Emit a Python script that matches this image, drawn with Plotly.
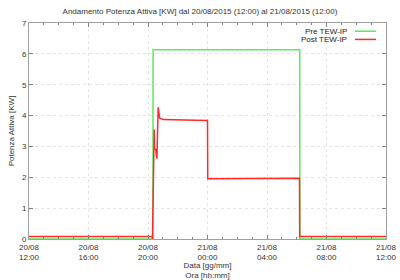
import plotly.graph_objects as go

# Data
pre_times = ["2015-08-20 12:00", "2015-08-20 20:20", "2015-08-20 20:20:30",
             "2015-08-21 06:12", "2015-08-21 06:12:30", "2015-08-21 12:00"]
pre_values = [0.0, 0.0, 6.13, 6.13, 0.0, 0.0]

post_times = ["2015-08-20 12:00", "2015-08-20 20:17", "2015-08-20 20:18",
              "2015-08-20 20:25", "2015-08-20 20:26", "2015-08-20 20:31",
              "2015-08-20 20:33", "2015-08-20 20:36", "2015-08-20 20:41",
              "2015-08-20 20:47", "2015-08-20 21:00", "2015-08-21 00:00",
              "2015-08-21 00:01", "2015-08-21 06:11", "2015-08-21 06:12",
              "2015-08-21 12:00"]
post_values = [0.08, 0.08, 0.0, 3.55, 2.95, 2.9, 2.6, 2.6, 4.27,
               3.92, 3.87, 3.84, 1.95, 1.97, 0.08, 0.08]

tick_vals = ["2015-08-20 12:00", "2015-08-20 16:00", "2015-08-20 20:00",
             "2015-08-21 00:00", "2015-08-21 04:00", "2015-08-21 08:00",
             "2015-08-21 12:00"]
tick_text = ["20/08<br>12:00", "20/08<br>16:00", "20/08<br>20:00",
             "21/08<br>00:00", "21/08<br>04:00", "21/08<br>08:00",
             "21/08<br>12:00"]

legend_names = ["Pre TEW-IP", "Post TEW-IP"]
colors = ["#5ee85e", "#ff2a2a"]

FONT = "Liberation Sans, Arial, sans-serif"

fig = go.Figure()
fig.add_trace(go.Scatter(x=pre_times, y=pre_values, mode="lines",
                         line=dict(color=colors[0], width=1.5, shape="linear"),
                         name=legend_names[0]))
fig.add_trace(go.Scatter(x=post_times, y=post_values, mode="lines",
                         line=dict(color=colors[1], width=1.5, shape="linear"),
                         name=legend_names[1]))

# legend drawn gnuplot-style (text left, sample right)
for i, (nm, c) in enumerate(zip(legend_names, colors)):
    yp = 0.962 - i * 0.038
    fig.add_annotation(xref="paper", yref="paper", x=0.896, y=yp, text=nm,
                       showarrow=False, xanchor="right", yanchor="middle",
                       font=dict(family=FONT, size=8, color="#222"))
    fig.add_shape(type="line", xref="paper", yref="paper",
                  x0=0.913, x1=0.972, y0=yp, y1=yp,
                  line=dict(color=c, width=1.5))

fig.update_layout(
    width=400, height=280,
    margin=dict(l=29, r=14, t=23, b=41),
    paper_bgcolor="white", plot_bgcolor="white",
    showlegend=False,
    font=dict(family=FONT, size=8, color="#333"),
    title=dict(text="Andamento Potenza Attiva [KW] dal 20/08/2015 (12:00) al 21/08/2015 (12:00)",
               x=0.5, xanchor="center", y=0.96, yanchor="middle",
               font=dict(family=FONT, size=8, color="#333")),
    xaxis=dict(range=["2015-08-20 12:00", "2015-08-21 12:00"],
               tickvals=tick_vals, ticktext=tick_text, automargin=False,
               showline=True, linecolor="#a0a0a0", linewidth=1, mirror="ticks",
               ticks="inside", ticklen=4, tickcolor="#808080",
               minor=dict(dtick=3600000, ticks="inside", ticklen=2, tickcolor="#808080", showgrid=False),
               showgrid=True, gridcolor="#e4e4e4", griddash="dot", gridwidth=1,
               zeroline=False,
               title=dict(text="Data [gg/mm]<br>Ora [hh:mm]", standoff=2,
                          font=dict(family=FONT, size=8, color="#333")),
               tickfont=dict(family=FONT, size=8, color="#333")),
    yaxis=dict(range=[0, 7], dtick=1, automargin=False,
               showline=True, linecolor="#a0a0a0", linewidth=1, mirror="ticks",
               ticks="inside", ticklen=4, tickcolor="#808080",
               showgrid=True, gridcolor="#e4e4e4", griddash="dot", gridwidth=1,
               zeroline=False,
               title=dict(text="Potenza Attiva [KW]", standoff=6,
                          font=dict(family=FONT, size=8, color="#333")),
               tickfont=dict(family=FONT, size=8, color="#333")),
)

fig.write_html("out.html")
